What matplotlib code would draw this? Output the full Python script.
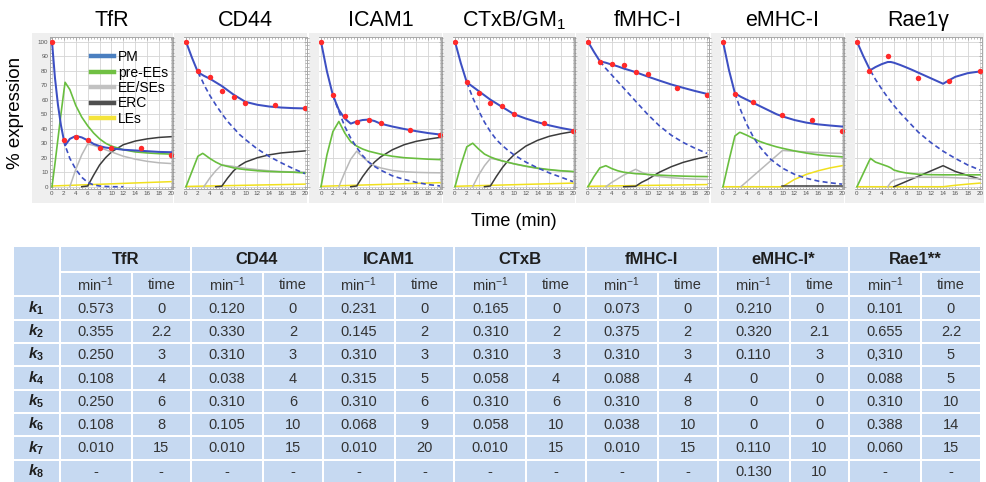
import matplotlib
matplotlib.use("Agg")
import matplotlib.pyplot as plt
from matplotlib.patches import Rectangle
from matplotlib.lines import Line2D
from matplotlib.ticker import MultipleLocator

plt.rcParams['font.family'] = ['Liberation Sans', 'DejaVu Sans']
plt.rcParams['mathtext.fontset'] = 'custom'
plt.rcParams['mathtext.rm'] = 'Liberation Sans'
plt.rcParams['mathtext.it'] = 'Liberation Sans:italic:bold'
plt.rcParams['mathtext.bf'] = 'Liberation Sans:bold'

# ---- panel data (% expression vs min) ----
TFR_T = [0, 0.5, 1, 1.5, 2, 2.2, 3, 4, 5, 6, 7, 8, 9, 10, 12, 14, 16, 18, 20]
TFR_PM = [100, 75, 56.5, 42.5, 32, 28.5, 33, 35, 34, 32, 29.5, 28, 27, 26.5, 25.5, 25, 24.5, 24, 23.8]
TFR_DASH = [None] * 4 + [32, 28.5, 19.5, 12, 6.5, 3, 1.2, 0.5, 0.2, 0, 0] + [None] * 4
TFR_PRE = [0, 16, 33, 50, 66, 72, 67, 56, 48, 42, 37, 33, 30, 28, 25.5, 24, 23.3, 22.8, 22.5]
TFR_EE = [None] * 6 + [0, 12, 22, 29.5, 28.5, 27, 25.5, 24, 21, 19, 17.5, 16.5, 16]
TFR_ERC = [None] * 8 + [0, 0.5, 8, 15, 20, 24, 29, 31.5, 33, 34, 34.5]
TFR_LE = [0.5] + [None] * 17 + [3.5]
TFR_DOT_T = [0, 2, 4, 6, 8, 10, 15, 20]
TFR_DOT_V = [100, 32, 34.5, 32, 27, 27, 27, 22]

CD44_T = [0, 1, 2, 2.8, 3, 4, 5, 6, 7, 8, 9, 10, 12, 14, 16, 18, 20]
CD44_PM = [100, 89, 79, 77, 76.5, 74.5, 72, 69.5, 66.5, 63.5, 61, 58.5, 56.5, 55.3, 54.6, 54.2, 54]
CD44_DASH = [None, None, 79, 72.5, 70.5, 63, 56.5, 50.5, 45, 40.5, 36, 32.5, 26, 20.8, 16.5, 12.5, 9]
CD44_PRE = [0, 10.5, 21, 23, 22.5, 19.5, 17, 15, 14, 13, 12.3, 11.8, 11, 10.5, 10.2, 10, 9.5]
CD44_EE = [None] * 4 + [0, 6, 11, 15, 14.5, 14, 13.3, 12.7, 11.8, 11, 10.5, 10.2, 10]
CD44_ERC = [None] * 6 + [0, 0.3, 6, 11, 14.5, 17, 20, 22, 23.3, 24, 24.7]
CD44_LE = [0.2] + [None] * 15 + [1.8]
CD44_DOT_T = [0, 2, 4, 6, 8, 10, 15, 20]
CD44_DOT_V = [100, 79.5, 76, 66, 62, 58, 56.5, 54]

ICAM_T = [0, 1, 2, 3, 4, 5, 6, 7, 8, 9, 10, 12, 14, 16, 18, 20]
ICAM_PM = [100, 79.5, 63, 53, 47, 43.5, 45, 46, 46.3, 45.3, 43.5, 41.5, 39.8, 38.3, 37, 36]
ICAM_DASH = [None, None, 63, 52, 41.5, 33.5, 27, 21.5, 17, 14, 11.5, 7.5, 5, 3, 1.5, 0.5]
ICAM_PRE = [0, 22, 38, 45, 37, 31, 28, 26, 24.5, 23.5, 22.5, 21, 20, 19.5, 19, 18.7]
ICAM_EE = [None] * 3 + [0, 10, 19, 24.5, 20.5, 17, 14.5, 13, 11.2, 10.3, 9.9, 9.7, 9.6]
ICAM_ERC = [None] * 5 + [0, 0.5, 7, 12.5, 17, 20.5, 25.5, 29, 31.3, 32.8, 34]
ICAM_LE = [0.3] + [None] * 14 + [2.8]
ICAM_DOT_T = [0, 2, 4, 6, 8, 10, 15, 20]
ICAM_DOT_V = [100, 63.5, 48.5, 44.8, 46.2, 43.7, 39, 36]

CTXB_T = [0, 1, 2, 3, 4, 5, 6, 7, 8, 9, 10, 12, 14, 16, 18, 20]
CTXB_PM = [100, 85, 72, 69, 66, 63, 60, 57.5, 55, 52.5, 50, 47, 44.5, 42.3, 40.5, 39]
CTXB_DASH = [None, None, 72, 61.5, 52.5, 44.5, 38, 32.5, 28.5, 25, 22, 17, 13, 9.5, 6.5, 3.5]
CTXB_PRE = [0, 15, 27.5, 30, 26, 22.5, 20.5, 19, 17.8, 16.8, 15.8, 14.2, 12.8, 11.8, 11, 10.5]
CTXB_EE = [None] * 3 + [0, 8, 14.5, 19.5, 18.8, 17.8, 16.8, 15.8, 14, 12.6, 11.5, 10.8, 10.3]
CTXB_ERC = [None] * 5 + [0, 0.5, 7, 13, 18, 22, 28, 32, 34.8, 36.6, 38]
CTXB_LE = [0.3] + [None] * 14 + [2.5]
CTXB_DOT_T = [0, 2, 4, 6, 8, 10, 15, 20]
CTXB_DOT_V = [100, 72.4, 64.8, 57.5, 55.6, 49.9, 43.9, 38.4]

FMHC_T = [0, 1, 2, 3, 4, 5, 6, 7, 8, 9, 10, 12, 14, 16, 18, 20]
FMHC_PM = [100, 93, 86.5, 85.5, 84.2, 83, 81.5, 80.3, 79, 77.5, 76, 73.2, 70.5, 68.2, 66, 64]
FMHC_DASH = [None, None, 86.5, 81.5, 77, 72.5, 68, 63.5, 59, 54.5, 50, 42, 35.5, 30.5, 26.5, 23]
FMHC_PRE = [0, 7, 13, 14.5, 12.5, 11, 10, 9.5, 9, 8.8, 8.5, 8, 7.6, 7.3, 7.1, 7]
FMHC_EE = [None] * 3 + [0, 3, 5.5, 8, 10, 12, 10, 8.3, 7, 6.2, 5.6, 5.2, 5]
FMHC_ERC = [None] * 6 + [0, None, 0.3, 3, 5, 10, 13.8, 16.8, 19, 20.8]
FMHC_LE = [0.3] + [None] * 14 + [1.5]
FMHC_DOT_T = [0, 2, 4, 6, 8, 10, 15, 20]
FMHC_DOT_V = [100, 85.7, 84.4, 83.7, 78.9, 77.5, 68.3, 63]

EMHC_T = [0, 1, 2, 2.8, 3, 4, 5, 6, 7, 8, 9, 10, 12, 14, 16, 18, 20]
EMHC_PM = [100, 80.5, 64.5, 62.5, 62, 60, 58, 56, 54, 52, 50, 48.5, 46, 44.2, 43, 42.2, 41.5]
EMHC_DASH = [None, None, 64.5, 55, 52.5, 43, 35, 28.5, 23.5, 19, 15.8, 12.8, 8.6, 5.8, 3.9, 2.7, 1.8]
EMHC_PRE = [0, 18, 35, 37.5, 37.3, 35.5, 33.5, 31.5, 30, 28.7, 27.5, 26.5, 24.7, 23.2, 22, 21.2, 20.6]
EMHC_EE = [None] * 4 + [0] + [None] * 6 + [25, 24.5, 24, 23.6, 23.2, 23]
EMHC_ERC = [None] * 11 + [0.2] + [None] * 4 + [0.2]
EMHC_LE = [0] + [None] * 10 + [0, 5, 8.5, 11, 13, 14.5]
EMHC_DOT_T = [0, 2, 5, 10, 15, 20]
EMHC_DOT_V = [100, 63.7, 58.2, 49.4, 46, 38.4]

RAE_T = [0, 1, 2, 2.2, 3, 4, 5, 5.5, 6, 7, 8, 9, 10, 12, 14, 15, 16, 18, 20]
RAE_PM = [100, 90.3, 81.5, 80.5, 82.5, 84.5, 86, 86, 85.5, 84, 82.3, 80.5, 78.6, 74.8, 71, 73.5, 75.8, 78.3, 79.5]
RAE_DASH = [None, None, None, 80, 74, 67.5, 61.5, None, 56, 51, 46.5, 42, 37.5, 30.5, 24.5, None, 19.5, 15, 11.5]
RAE_PRE = [0, 9, 18, 19.5, 17, 15.5, 14, 13, 11.5, 10.3, 9.5, 9, 8.6, 8.3, 8.2, None, 8.2, 8.2, 8.2]
RAE_EE = [None] * 6 + [0, 3, 4.5, 5.5, 6, None, 6.5, None, 6.5, None, 6.2, 5.8, 5.5]
RAE_ERC = [None] * 8 + [0] + [None] * 5 + [14.5, 12.5, 10.5, 7.8, 5.3]
RAE_LE = [0] + [None] * 13 + [0, None, 1, 1.8, 2.5]
RAE_DOT_T = [0, 2, 5, 10, 15, 20]
RAE_DOT_V = [99.5, 80, 90.3, 74.7, 72.9, 79.8]

PANELS = [
    ("TfR", TFR_T, TFR_PM, TFR_DASH, TFR_PRE, TFR_EE, TFR_ERC, TFR_LE, TFR_DOT_T, TFR_DOT_V),
    ("CD44", CD44_T, CD44_PM, CD44_DASH, CD44_PRE, CD44_EE, CD44_ERC, CD44_LE, CD44_DOT_T, CD44_DOT_V),
    ("ICAM1", ICAM_T, ICAM_PM, ICAM_DASH, ICAM_PRE, ICAM_EE, ICAM_ERC, ICAM_LE, ICAM_DOT_T, ICAM_DOT_V),
    ("CTxB/GM$_1$", CTXB_T, CTXB_PM, CTXB_DASH, CTXB_PRE, CTXB_EE, CTXB_ERC, CTXB_LE, CTXB_DOT_T, CTXB_DOT_V),
    ("fMHC-I", FMHC_T, FMHC_PM, FMHC_DASH, FMHC_PRE, FMHC_EE, FMHC_ERC, FMHC_LE, FMHC_DOT_T, FMHC_DOT_V),
    ("eMHC-I", EMHC_T, EMHC_PM, EMHC_DASH, EMHC_PRE, EMHC_EE, EMHC_ERC, EMHC_LE, EMHC_DOT_T, EMHC_DOT_V),
    ("Rae1γ", RAE_T, RAE_PM, RAE_DASH, RAE_PRE, RAE_EE, RAE_ERC, RAE_LE, RAE_DOT_T, RAE_DOT_V),
]

LEGEND_LABELS = ["PM", "pre-EEs", "EE/SEs", "ERC", "LEs"]

# ---- table data ----
TABLE_GROUPS = ["TfR", "CD44", "ICAM1", "CTxB", "fMHC-I", "eMHC-I*", "Rae1**"]
TFR_RATE = ["0.573", "0.355", "0.250", "0.108", "0.250", "0.108", "0.010", "-"]
TFR_TIME = ["0", "2.2", "3", "4", "6", "8", "15", "-"]
CD44_RATE = ["0.120", "0.330", "0.310", "0.038", "0.310", "0.105", "0.010", "-"]
CD44_TIME = ["0", "2", "3", "4", "6", "10", "15", "-"]
ICAM_RATE = ["0.231", "0.145", "0.310", "0.315", "0.310", "0.068", "0.010", "-"]
ICAM_TIME = ["0", "2", "3", "5", "6", "9", "20", "-"]
CTXB_RATE = ["0.165", "0.310", "0.310", "0.058", "0.310", "0.058", "0.010", "-"]
CTXB_TIME = ["0", "2", "3", "4", "6", "10", "15", "-"]
FMHC_RATE = ["0.073", "0.375", "0.310", "0.088", "0.310", "0.038", "0.010", "-"]
FMHC_TIME = ["0", "2", "3", "4", "8", "10", "15", "-"]
EMHC_RATE = ["0.210", "0.320", "0.110", "0", "0", "0", "0.110", "0.130"]
EMHC_TIME = ["0", "2.1", "3", "0", "0", "0", "10", "10"]
RAE_RATE = ["0.101", "0.655", "0,310", "0.088", "0.310", "0.388", "0.060", "-"]
RAE_TIME = ["0", "2.2", "5", "5", "10", "14", "15", "-"]
TABLE_RATES = [TFR_RATE, CD44_RATE, ICAM_RATE, CTXB_RATE, FMHC_RATE, EMHC_RATE, RAE_RATE]
TABLE_TIMES = [TFR_TIME, CD44_TIME, ICAM_TIME, CTXB_TIME, FMHC_TIME, EMHC_TIME, RAE_TIME]

# ---- layout (pixels of the 987x482 picture) ----
W, H = 987, 482
X0 = [52, 186, 321, 455, 588, 723, 857]      # where t=0 sits
X20 = [171, 305, 440, 573, 707, 842, 980]    # where t=20 sits
AX_TOP, AX_BOT = 37.35, 188.9
FRAME_L = [32, 174, 309, 443, 576, 711, 845]
FRAME_R = [173, 307, 442, 575, 709, 844, 984]

C_PM = '#3d4fc2'
C_PRE = '#69be3f'
C_EE = '#b9b9b9'
C_ERC = '#3c3c3c'
C_LE = '#f0e01e'
LEG_COLORS = ['#4b7fc0', '#70c043', '#c2c2c2', '#4f4f4f', '#f5e43a']


def draw_curve(ax, t, v, **kw):
    pts = [(a, b) for a, b in zip(t, v) if b is not None]
    ax.plot([p[0] for p in pts], [p[1] for p in pts], **kw)


fig = plt.figure(figsize=(W / 100, H / 100), dpi=100)

for i, (name, t, pm, dash, pre, ee, erc, le, dt, dv) in enumerate(PANELS):
    fig.patches.append(Rectangle((FRAME_L[i] / W, 1 - 203 / H),
                                 (FRAME_R[i] - FRAME_L[i]) / W, 170 / H,
                                 transform=fig.transFigure, fc='#efefef',
                                 ec='none', zorder=-5))
    u = (X20[i] - X0[i]) / 20
    ax = fig.add_axes([(X0[i] - 0.3 * u) / W, 1 - AX_BOT / H,
                       20.6 * u / W, (AX_BOT - AX_TOP) / H])
    ax.set_xlim(-0.3, 20.3)
    ax.set_ylim(-1.5, 103)
    ax.set_facecolor('white')
    ax.xaxis.set_major_locator(MultipleLocator(2))
    ax.xaxis.set_minor_locator(MultipleLocator(0.5))
    ax.yaxis.set_major_locator(MultipleLocator(10))
    ax.yaxis.set_minor_locator(MultipleLocator(2.5))
    ax.grid(True, which='major', color='#d4d4d4', lw=0.6)
    ax.set_axisbelow(True)
    for s in ax.spines.values():
        s.set_color('#a8a8a8')
        s.set_linewidth(0.7)
    ax.tick_params(which='both', direction='in', top=True, right=True,
                   colors='#888888', width=0.4, labelsize=4.5,
                   labelcolor='#555555', pad=1.5)
    ax.tick_params(which='major', length=2.5)
    ax.tick_params(which='minor', length=1.5)
    if i > 0:
        ax.spines['left'].set_position(('outward', 9))
        ax.tick_params(labelleft=False)

    draw_curve(ax, t, le, color=C_LE, lw=1.1)
    draw_curve(ax, t, erc, color=C_ERC, lw=1.1)
    draw_curve(ax, t, ee, color=C_EE, lw=1.1)
    draw_curve(ax, t, pre, color=C_PRE, lw=1.2)
    draw_curve(ax, t, dash, color=C_PM, lw=1.2, ls=(0, (3, 2)))
    draw_curve(ax, t, pm, color=C_PM, lw=1.45)
    ax.plot(dt, dv, 'o', color='#ff2a2a', ms=3.9, mec='none', zorder=5)

    fig.text((X0[i] + X20[i]) / 2 / W, 1 - 26 / H, name, fontsize=15.5,
             ha='center', va='baseline')

    if i == 0:
        handles = [Line2D([], [], color=c, lw=3.2) for c in LEG_COLORS]
        ax.legend(handles, LEGEND_LABELS, loc='upper left',
                  bbox_to_anchor=(0.33, 0.915), frameon=False, fontsize=10,
                  handlelength=1.65, handletextpad=0.3, labelspacing=0.1,
                  borderpad=0, borderaxespad=0)

fig.text(16 / W, 1 - 113 / H, '% expression', rotation=90, fontsize=13.5,
         ha='center', va='center')
fig.text(514 / W, 1 - 222 / H, 'Time (min)', fontsize=13, ha='center',
         va='center')

# ---- table ----
axt = fig.add_axes([0, 0, 1, 245 / H])
axt.set_xlim(0, W)
axt.set_ylim(482, 482 - 245)
axt.axis('off')

CELL = '#c6d9f1'
TXT = '#333333'
FIRST_L, FIRST_R = 12.7, 59.5
GROUP_W, MIN_W = 131.6, 72.0
H1_TOP, H1_BOT, H2_BOT = 246.5, 272.5, 296.5
ROW_H = 23.3


def cell(x0, x1, y0, y1):
    axt.add_patch(Rectangle((x0 + 1, y0 + 1), x1 - x0 - 2, y1 - y0 - 2,
                            fc=CELL, ec='none'))


cell(FIRST_L, FIRST_R, H1_TOP, H2_BOT)
for r in range(8):
    y0 = H2_BOT + r * ROW_H
    cell(FIRST_L, FIRST_R, y0, y0 + ROW_H)
    axt.text((FIRST_L + FIRST_R) / 2, y0 + ROW_H / 2, r'$k_\mathbf{%d}$' % (r + 1),
             fontsize=11, ha='center', va='center', color='#1e1e1e')

for g, gname in enumerate(TABLE_GROUPS):
    gx = FIRST_R + g * GROUP_W
    mx = gx + MIN_W
    ex = gx + GROUP_W
    cell(gx, ex, H1_TOP, H1_BOT)
    axt.text((gx + ex) / 2, (H1_TOP + H1_BOT) / 2 + 0.5, gname, fontsize=12,
             fontweight='bold', ha='center', va='center', color='#1e1e1e')
    cell(gx, mx, H1_BOT, H2_BOT)
    cell(mx, ex, H1_BOT, H2_BOT)
    axt.text((gx + mx) / 2, (H1_BOT + H2_BOT) / 2 + 0.5, 'min$^{-1}$',
             fontsize=10.5, ha='center', va='center', color=TXT)
    axt.text((mx + ex) / 2, (H1_BOT + H2_BOT) / 2 + 0.5, 'time',
             fontsize=10.5, ha='center', va='center', color=TXT)
    for r in range(8):
        y0 = H2_BOT + r * ROW_H
        cell(gx, mx, y0, y0 + ROW_H)
        cell(mx, ex, y0, y0 + ROW_H)
        axt.text((gx + mx) / 2, y0 + ROW_H / 2 + 0.5, TABLE_RATES[g][r],
                 fontsize=10.5, ha='center', va='center', color=TXT)
        axt.text((mx + ex) / 2, y0 + ROW_H / 2 + 0.5, TABLE_TIMES[g][r],
                 fontsize=10.5, ha='center', va='center', color=TXT)

fig.savefig('out.png', dpi=100)
